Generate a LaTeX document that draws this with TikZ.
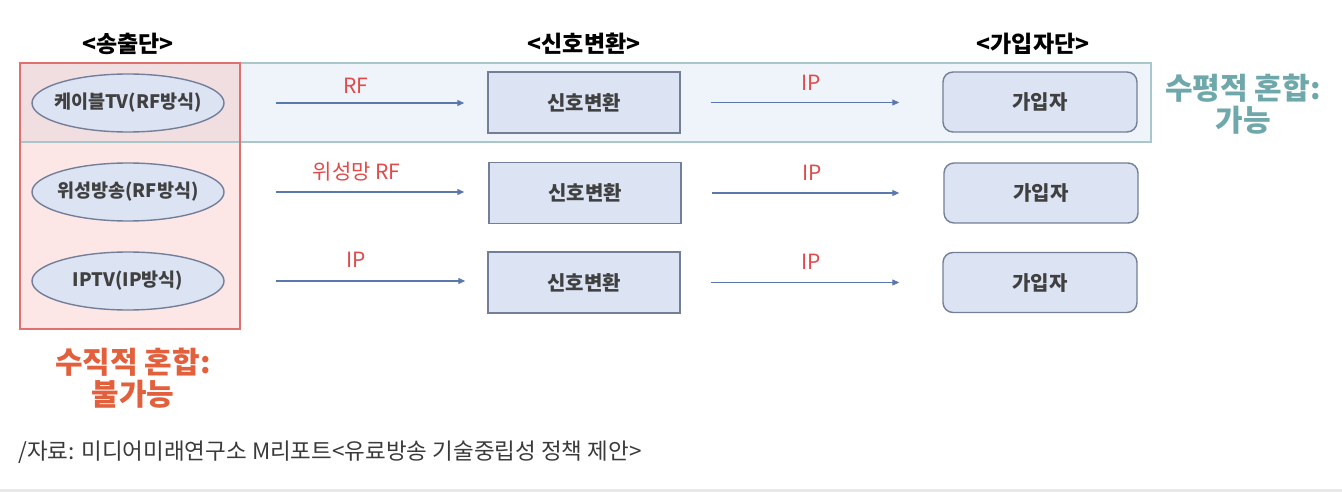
\documentclass[tikz,border=0pt]{standalone}
\usepackage{fontspec}
\setmainfont{Noto Sans CJK KR}
\usetikzlibrary{shapes.geometric,arrows.meta}
\definecolor{redline}{HTML}{E07070}
\definecolor{redfill}{HTML}{FCE6E6}
\definecolor{overlap}{HTML}{F1DEE1}
\definecolor{bandfill}{HTML}{EEF4F9}
\definecolor{bandline}{HTML}{A9C6CA}
\definecolor{nodefill}{HTML}{DCE3F3}
\definecolor{nodeline}{HTML}{737F99}
\definecolor{arrowc}{HTML}{5B78AE}
\definecolor{labelred}{HTML}{E04A4A}
\definecolor{tealtxt}{HTML}{6FA8AB}
\definecolor{orangetxt}{HTML}{E2603C}
\definecolor{captxt}{HTML}{3A3A3A}
\tikzset{
  ell/.style={ellipse, draw=nodeline, line width=1.4pt, fill=nodefill, minimum width=192pt, minimum height=58pt, inner xsep=-40pt, inner ysep=0pt, font=\fontsize{18.5}{20}\selectfont\bfseries, text=black!75},
  convbox/.style={rectangle, draw=nodeline, line width=1.4pt, fill=nodefill, minimum width=192pt, minimum height=61pt, inner sep=0pt, font=\fontsize{20}{22}\selectfont\bfseries, text=black!75},
  subbox/.style={rectangle, rounded corners=10pt, draw=nodeline, line width=1.4pt, fill=nodefill, minimum width=194pt, minimum height=60pt, inner sep=0pt, font=\fontsize{20}{22}\selectfont\bfseries, text=black!75},
  flow/.style={draw=arrowc, line width=1.2pt, -{Triangle[length=7pt,width=6pt]}},
  flowlabel/.style={text=labelred, font=\fontsize{21}{23}\selectfont},
  header/.style={font=\fontsize{23}{25}\selectfont\bfseries, text=black},
}
\begin{document}
\begin{tikzpicture}[x=1pt,y=-1pt]
\useasboundingbox (0,0) rectangle (1342,492);
\fill[white] (0,0) rectangle (1342,492);
\fill[black!9] (0,489) rectangle (1342,492);
% red column
\fill[redfill] (20,63) rectangle (240,329);
\fill[bandfill] (240,63) rectangle (1151,142);
\fill[overlap] (20,63) rectangle (240,142);
\draw[bandline, line width=1.5pt] (20,63) rectangle (1151,142);
\draw[redline, line width=1.5pt] (20,63) rectangle (240,329);
% headers
\node[header] (h1) at (128,44) {<송출단>};
\node[header] (h2) at (584,44) {<신호변환>};
\node[header] (h3) at (1033,44) {<가입자단>};
% sources
\node[ell] (s1) at (128,103) {케이블TV(RF방식)};
\node[ell] (s2) at (128,192) {위성방송(RF방식)};
\node[ell] (s3) at (128,281) {IPTV(IP방식)};
% converters
\node[convbox] (c1) at (584,102.5) {신호변환};
\node[convbox] (c2) at (585,193) {신호변환};
\node[convbox] (c3) at (584,282.5) {신호변환};
% subscribers
\node[subbox] (u1) at (1040,102) {가입자};
\node[subbox] (u2) at (1041,193) {가입자};
\node[subbox] (u3) at (1040,282.5) {가입자};
% arrows
\draw[flow, shorten <=51pt, shorten >=23pt] (s1.east) -- (s1.east -| c1.west) node[flowlabel, midway, yshift=17pt] (l1) {RF};
\draw[flow, shorten <=51pt, shorten >=24pt] (s2.east) -- (s2.east -| c2.west) node[flowlabel, midway, yshift=20pt] (l2) {위성망 RF};
\draw[flow, shorten <=51pt, shorten >=22pt] (s3.east) -- (s3.east -| c3.west) node[flowlabel, midway, yshift=21pt] (l3) {IP};
\draw[flow, shorten <=30pt, shorten >=43pt] (c1.east) -- (c1.east -| u1.west) node[flowlabel, midway, yshift=20pt] (l4) {IP};
\draw[flow, shorten <=30pt, shorten >=44pt] (c2.east) -- (c2.east -| u2.west) node[flowlabel, midway, yshift=20pt] (l5) {IP};
\draw[flow, shorten <=30pt, shorten >=43pt] (c3.east) -- (c3.east -| u3.west) node[flowlabel, midway, yshift=21pt] (l6) {IP};
% notes
\node[text=tealtxt, font=\fontsize{30}{32}\selectfont\bfseries, align=center] (hnote) at (1243,104) {수평적 혼합:\\가능};
\node[text=orangetxt, font=\fontsize{30}{32}\selectfont\bfseries, align=center] (vnote) at (133,378) {수직적 혼합:\\불가능};
% caption
\node[text=captxt, font=\fontsize{22.5}{24}\selectfont, anchor=west, inner sep=0pt] (cap) at (18,452) {/자료: 미디어미래연구소 M리포트<유료방송 기술중립성 정책 제안>};
\end{tikzpicture}
\end{document}
